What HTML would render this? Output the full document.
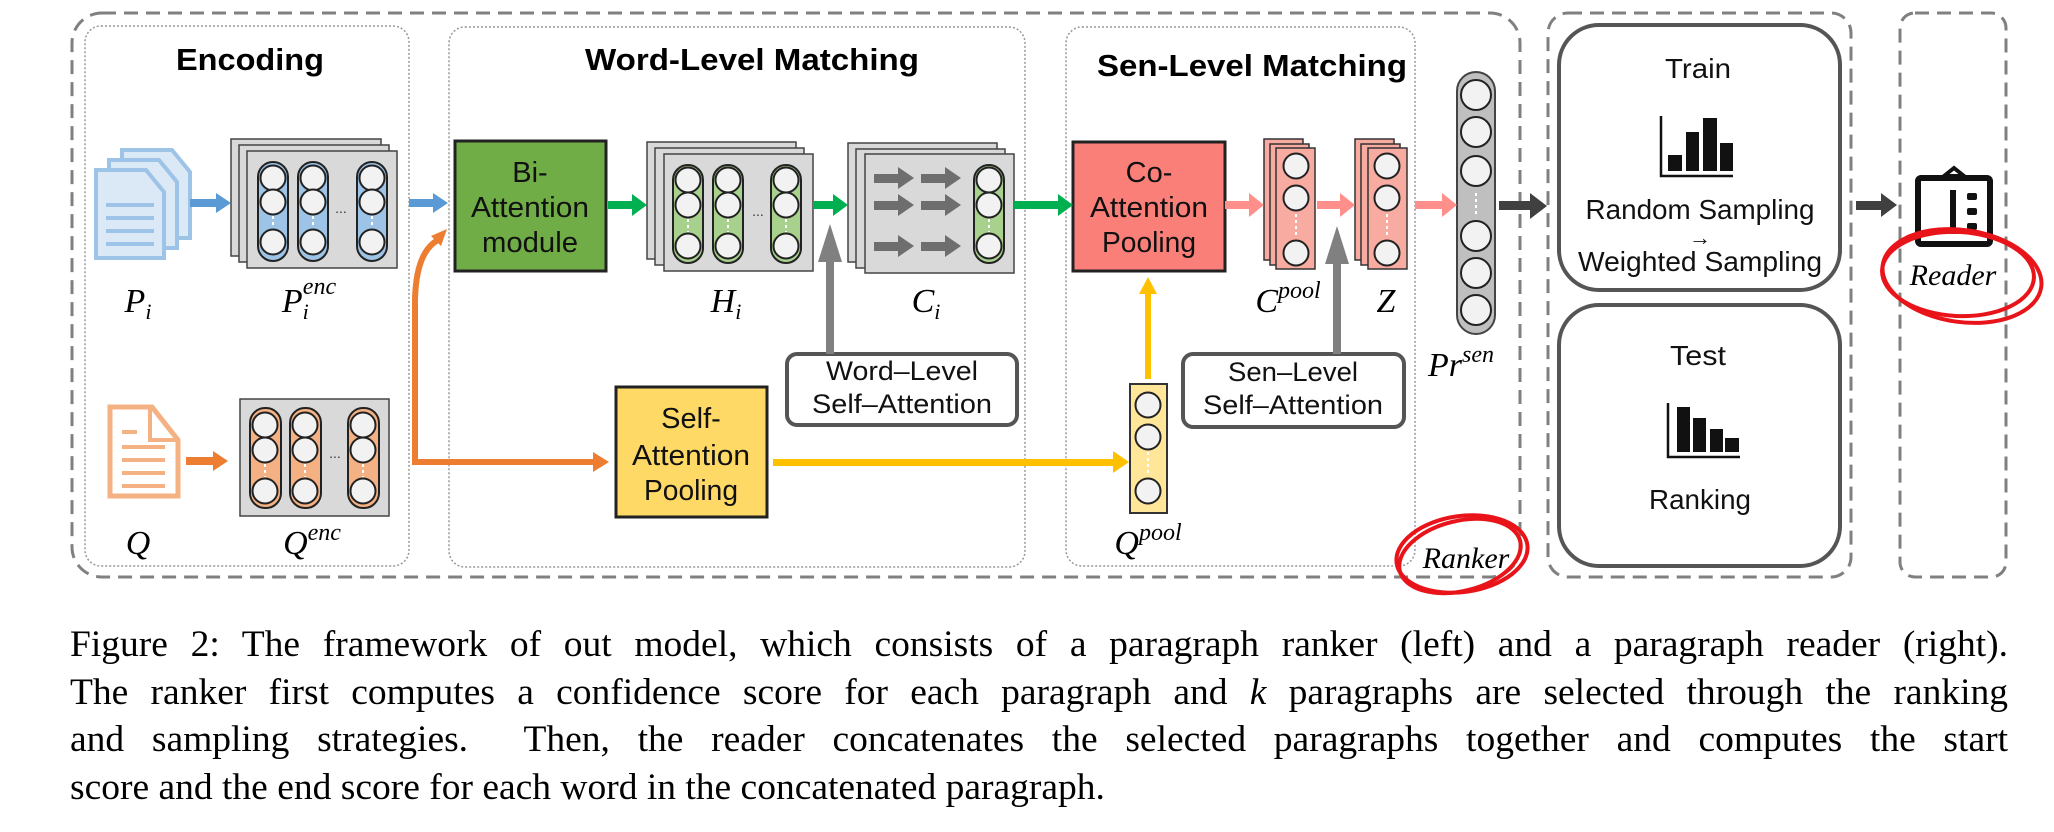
<!DOCTYPE html>
<html><head><meta charset="utf-8"><style>
html,body{margin:0;padding:0;background:#fff;}
body{width:2054px;height:832px;position:relative;overflow:hidden;}
svg{position:absolute;left:0;top:0;}
.cap{position:absolute;left:70px;width:1938px;font-family:"Liberation Serif",serif;font-size:37.5px;line-height:47px;white-space:nowrap;text-align:justify;text-align-last:justify;color:#000;}
</style></head><body>
<svg width="2054" height="832" viewBox="0 0 2054 832" xmlns="http://www.w3.org/2000/svg">
<defs>
<g id="wc"><ellipse cx="0" cy="0" rx="12.5" ry="12.5" fill="#f2f2f2" stroke="#222" stroke-width="2"/></g>
</defs>
<rect x="72" y="13" width="1448" height="564" rx="30" fill="none" stroke="#808080" stroke-width="3" stroke-dasharray="14 8"/>
<rect x="1548" y="13" width="303" height="564" rx="20" fill="none" stroke="#808080" stroke-width="3" stroke-dasharray="14 8"/>
<rect x="1900" y="13" width="106" height="564" rx="15" fill="none" stroke="#808080" stroke-width="3" stroke-dasharray="14 8"/>
<rect x="85" y="26" width="324" height="540" rx="16" fill="none" stroke="#999" stroke-width="1.5" stroke-dasharray="2 2"/>
<rect x="449" y="27" width="576" height="540" rx="16" fill="none" stroke="#999" stroke-width="1.5" stroke-dasharray="2 2"/>
<rect x="1066" y="27" width="349" height="539" rx="16" fill="none" stroke="#999" stroke-width="1.5" stroke-dasharray="2 2"/>

<g font-family="Liberation Sans, sans-serif" font-weight="bold" font-size="31" text-anchor="middle" fill="#000">
<text x="250" y="70" textLength="148" lengthAdjust="spacingAndGlyphs">Encoding</text>
<text x="752" y="70" textLength="334" lengthAdjust="spacingAndGlyphs">Word-Level Matching</text>
<text x="1252" y="76" textLength="310" lengthAdjust="spacingAndGlyphs">Sen-Level Matching</text>
</g>

<g fill="#dbe8f6" stroke="#9dc3e6" stroke-width="4">
<polygon points="122,150 172,150 190,172 190,238 122,238"/>
<polygon points="109,160 159,160 177,182 177,248 109,248"/>
<polygon points="96,170 146,170 164,192 164,258 96,258"/>
</g>
<g stroke="#9dc3e6" stroke-width="4"><line x1="106" y1="205" x2="154" y2="205"/><line x1="106" y1="218" x2="154" y2="218"/><line x1="106" y1="231" x2="154" y2="231"/><line x1="106" y1="244" x2="154" y2="244"/></g>
<polygon points="110,407 152,407 178,440 178,496 110,496" fill="#fff" stroke="#f4b183" stroke-width="5"/>
<polyline points="150,407 150,440 178,440" fill="none" stroke="#f4b183" stroke-width="4"/>
<g stroke="#f4b183" stroke-width="4"><line x1="122" y1="432" x2="137" y2="432"/><line x1="122" y1="447" x2="165" y2="447"/><line x1="122" y1="460" x2="165" y2="460"/><line x1="122" y1="473" x2="165" y2="473"/><line x1="122" y1="486" x2="165" y2="486"/></g>

<g fill="#d9d9d9" stroke="#444" stroke-width="1.5">
<rect x="231" y="139" width="150" height="117"/><rect x="239" y="145" width="150" height="117"/><rect x="247" y="151" width="150" height="117"/>
</g>
<g fill="#9dc3e6" stroke="#222" stroke-width="2">
<rect x="258" y="162" width="30" height="99" rx="15"/><rect x="298" y="162" width="30" height="99" rx="15"/><rect x="357" y="162" width="30" height="99" rx="15"/>
</g>
<g><use href="#wc" x="273" y="178"/><use href="#wc" x="273" y="202"/><use href="#wc" x="273" y="242"/>
<use href="#wc" x="313" y="178"/><use href="#wc" x="313" y="202"/><use href="#wc" x="313" y="242"/>
<use href="#wc" x="372" y="178"/><use href="#wc" x="372" y="202"/><use href="#wc" x="372" y="242"/></g>
<g stroke="#fff" stroke-width="2" stroke-dasharray="3 3"><line x1="273" y1="216" x2="273" y2="228"/><line x1="313" y1="216" x2="313" y2="228"/><line x1="372" y1="216" x2="372" y2="228"/></g>
<text x="341" y="213" font-family="Liberation Sans" font-size="14" text-anchor="middle" fill="#333">...</text>

<rect x="240" y="399" width="149" height="117" fill="#d9d9d9" stroke="#444" stroke-width="1.5"/>
<g fill="#f4b183" stroke="#222" stroke-width="2">
<rect x="250" y="408" width="31" height="100" rx="15"/><rect x="290" y="408" width="31" height="100" rx="15"/><rect x="348" y="408" width="31" height="100" rx="15"/>
</g>
<g><use href="#wc" x="265" y="425"/><use href="#wc" x="265" y="450"/><use href="#wc" x="265" y="491"/>
<use href="#wc" x="305" y="425"/><use href="#wc" x="305" y="450"/><use href="#wc" x="305" y="491"/>
<use href="#wc" x="363" y="425"/><use href="#wc" x="363" y="450"/><use href="#wc" x="363" y="491"/></g>
<g stroke="#fff" stroke-width="2" stroke-dasharray="3 3"><line x1="265" y1="464" x2="265" y2="477"/><line x1="305" y1="464" x2="305" y2="477"/><line x1="363" y1="464" x2="363" y2="477"/></g>
<text x="335" y="458" font-family="Liberation Sans" font-size="14" text-anchor="middle" fill="#333">...</text>

<g fill="#d9d9d9" stroke="#444" stroke-width="1.5">
<rect x="647" y="142" width="149" height="117"/><rect x="655" y="148" width="149" height="117"/><rect x="664" y="154" width="149" height="117"/>
</g>
<g fill="#a9d18e" stroke="#222" stroke-width="2">
<rect x="673" y="165" width="30" height="98" rx="15"/><rect x="713" y="165" width="30" height="98" rx="15"/><rect x="771" y="165" width="30" height="98" rx="15"/>
</g>
<g><use href="#wc" x="688" y="180"/><use href="#wc" x="688" y="205"/><use href="#wc" x="688" y="246"/>
<use href="#wc" x="728" y="180"/><use href="#wc" x="728" y="205"/><use href="#wc" x="728" y="246"/>
<use href="#wc" x="786" y="180"/><use href="#wc" x="786" y="205"/><use href="#wc" x="786" y="246"/></g>
<g stroke="#fff" stroke-width="2" stroke-dasharray="3 3"><line x1="688" y1="219" x2="688" y2="232"/><line x1="728" y1="219" x2="728" y2="232"/><line x1="786" y1="219" x2="786" y2="232"/></g>
<text x="758" y="216" font-family="Liberation Sans" font-size="14" text-anchor="middle" fill="#333">...</text>

<g fill="#d9d9d9" stroke="#444" stroke-width="1.5">
<rect x="848" y="143" width="149" height="119"/><rect x="856" y="149" width="149" height="119"/><rect x="865" y="154" width="149" height="119"/>
</g>
<g fill="#6e6e6e">
<rect x="874" y="174" width="24" height="9"/><polygon points="898,167 914,178 898,189"/>
<rect x="921" y="174" width="24" height="9"/><polygon points="945,167 961,178 945,189"/>
<rect x="874" y="201" width="24" height="9"/><polygon points="898,194 914,205 898,216"/>
<rect x="921" y="201" width="24" height="9"/><polygon points="945,194 961,205 945,216"/>
<rect x="874" y="242" width="24" height="9"/><polygon points="898,235 914,246 898,257"/>
<rect x="921" y="242" width="24" height="9"/><polygon points="945,235 961,246 945,257"/>
</g>
<rect x="974" y="165" width="30" height="98" rx="15" fill="#a9d18e" stroke="#222" stroke-width="2"/>
<use href="#wc" x="989" y="180"/><use href="#wc" x="989" y="205"/><use href="#wc" x="989" y="246"/>
<line x1="989" y1="219" x2="989" y2="232" stroke="#fff" stroke-width="2" stroke-dasharray="3 3"/>

<rect x="455" y="141" width="151" height="130" fill="#70ad47" stroke="#222" stroke-width="3"/>
<rect x="616" y="387" width="151" height="130" fill="#ffd966" stroke="#222" stroke-width="3"/>
<rect x="1073" y="142" width="152" height="129" fill="#fb7f79" stroke="#222" stroke-width="3"/>
<g font-family="Liberation Sans, sans-serif" font-size="29" text-anchor="middle" fill="#111">
<text x="530" y="182">Bi-</text><text x="530" y="217" textLength="118" lengthAdjust="spacingAndGlyphs">Attention</text><text x="530" y="252" textLength="96" lengthAdjust="spacingAndGlyphs">module</text>
<text x="691" y="428">Self-</text><text x="691" y="465" textLength="118" lengthAdjust="spacingAndGlyphs">Attention</text><text x="691" y="500" textLength="94" lengthAdjust="spacingAndGlyphs">Pooling</text>
<text x="1149" y="182">Co-</text><text x="1149" y="217" textLength="118" lengthAdjust="spacingAndGlyphs">Attention</text><text x="1149" y="252" textLength="94" lengthAdjust="spacingAndGlyphs">Pooling</text>
</g>
<rect x="787" y="354" width="230" height="71" rx="10" fill="#fff" stroke="#555" stroke-width="4"/>
<rect x="1183" y="354" width="221" height="73" rx="10" fill="#fff" stroke="#555" stroke-width="4"/>
<g font-family="Liberation Sans, sans-serif" font-size="27" text-anchor="middle" fill="#111">
<text x="902" y="380" textLength="152" lengthAdjust="spacingAndGlyphs">Word–Level</text><text x="902" y="413" textLength="180" lengthAdjust="spacingAndGlyphs">Self–Attention</text>
<text x="1293" y="381" textLength="130" lengthAdjust="spacingAndGlyphs">Sen–Level</text><text x="1293" y="414" textLength="180" lengthAdjust="spacingAndGlyphs">Self–Attention</text>
</g>

<g fill="#f8aba0" stroke="#333" stroke-width="1.5">
<rect x="1264" y="139" width="39" height="121"/><rect x="1270" y="144" width="39" height="121"/><rect x="1276" y="148" width="39" height="121"/>
<rect x="1355" y="139" width="39" height="121"/><rect x="1361" y="144" width="39" height="121"/><rect x="1368" y="148" width="39" height="121"/>
</g>
<use href="#wc" x="1296" y="166"/><use href="#wc" x="1296" y="198"/><use href="#wc" x="1296" y="253"/>
<use href="#wc" x="1387" y="166"/><use href="#wc" x="1387" y="198"/><use href="#wc" x="1387" y="253"/>
<g stroke="#fff" stroke-width="2" stroke-dasharray="3 3"><line x1="1296" y1="214" x2="1296" y2="236"/><line x1="1387" y1="214" x2="1387" y2="236"/></g>

<rect x="1457" y="72" width="38" height="262" rx="19" fill="#bfbfbf" stroke="#444" stroke-width="2"/>
<g fill="#f2f2f2" stroke="#222" stroke-width="2">
<ellipse cx="1476" cy="95" rx="15" ry="15"/><ellipse cx="1476" cy="132" rx="15" ry="15"/><ellipse cx="1476" cy="171" rx="15" ry="15"/>
<ellipse cx="1476" cy="236" rx="15" ry="15"/><ellipse cx="1476" cy="273" rx="15" ry="15"/><ellipse cx="1476" cy="310" rx="15" ry="15"/>
</g>
<line x1="1476" y1="193" x2="1476" y2="216" stroke="#fff" stroke-width="2" stroke-dasharray="3 3"/>

<rect x="1130" y="384" width="37" height="129" fill="#ffe699" stroke="#333" stroke-width="2"/>
<use href="#wc" x="1148" y="405"/><use href="#wc" x="1148" y="437"/><use href="#wc" x="1148" y="491"/>
<line x1="1148" y1="452" x2="1148" y2="475" stroke="#fff" stroke-width="2" stroke-dasharray="3 3"/>

<g fill="#5b9bd5">
<rect x="190" y="199" width="26" height="8"/><polygon points="216,193 231,203 216,213"/>
<rect x="409" y="199" width="24" height="8"/><polygon points="433,193 448,203 433,213"/>
</g>
<g fill="#00b050">
<rect x="608" y="201" width="24" height="8"/><polygon points="632,194 647,205 632,216"/>
<rect x="813" y="201" width="20" height="8"/><polygon points="833,194 848,205 833,216"/>
<rect x="1014" y="201" width="44" height="8"/><polygon points="1058,194 1073,205 1058,216"/>
</g>
<g fill="#ff8f8a">
<rect x="1225" y="201" width="24" height="8"/><polygon points="1249,193 1264,205 1249,217"/>
<rect x="1317" y="201" width="23" height="8"/><polygon points="1340,193 1355,205 1340,217"/>
<rect x="1415" y="201" width="27" height="8"/><polygon points="1442,193 1457,205 1442,217"/>
</g>
<g fill="#404040">
<rect x="1499" y="201" width="31" height="9"/><polygon points="1530,193 1547,206 1530,219"/>
<rect x="1856" y="201" width="25" height="9"/><polygon points="1881,193 1897,205 1881,217"/>
</g>
<g fill="#ed7d31">
<rect x="186" y="457" width="27" height="8"/><polygon points="213,451 228,461 213,471"/>
<polygon points="593,452 609,462 593,472"/>
</g>
<path d="M593 462 H415 V300 Q416 252 438 240" fill="none" stroke="#ed7d31" stroke-width="6"/>
<polygon points="431,236 447,229 441,246" fill="#ed7d31"/>
<rect x="773" y="459" width="340" height="7" fill="#ffc000"/>
<polygon points="1113,451 1129,462 1113,473" fill="#ffc000"/>
<rect x="1145" y="292" width="6" height="87" fill="#ffc000"/>
<polygon points="1139,294 1148,277 1157,294" fill="#ffc000"/>
<g fill="#808080">
<rect x="826" y="258" width="8" height="96"/><polygon points="818,262 830,224 842,262"/>
<rect x="1333" y="260" width="8" height="94"/><polygon points="1325,264 1337,226 1349,264"/>
</g>

<g font-family="Liberation Serif, serif" font-style="italic" font-size="34" fill="#000" text-anchor="middle">
<text x="138" y="312">P<tspan font-size="22" dy="7">i</tspan></text>
<text x="309" y="312">P<tspan font-size="22" dy="7">i</tspan><tspan font-size="24" dx="-6" dy="-25">enc</tspan></text>
<text x="726" y="312">H<tspan font-size="22" dy="7">i</tspan></text>
<text x="926" y="312">C<tspan font-size="22" dy="7">i</tspan></text>
<text x="1288" y="312">C<tspan font-size="24" dy="-14">pool</tspan></text>
<text x="1386" y="312">Z</text>
<text x="1461" y="376">Pr<tspan font-size="24" dy="-14">sen</tspan></text>
<text x="138" y="554">Q</text>
<text x="312" y="554">Q<tspan font-size="24" dy="-14">enc</tspan></text>
<text x="1148" y="554">Q<tspan font-size="24" dy="-14">pool</tspan></text>
<text x="1466" y="568" font-size="30">Ranker</text>
<text x="1953" y="285" font-size="30">Reader</text>
</g>

<rect x="1559" y="25" width="281" height="265" rx="40" fill="#fff" stroke="#555" stroke-width="4"/>
<rect x="1559" y="305" width="281" height="261" rx="40" fill="#fff" stroke="#555" stroke-width="4"/>
<g font-family="Liberation Sans, sans-serif" font-size="28" text-anchor="middle" fill="#111">
<text x="1698" y="78" textLength="66" lengthAdjust="spacingAndGlyphs">Train</text>
<text x="1700" y="219" textLength="229" lengthAdjust="spacingAndGlyphs">Random Sampling</text>
<text x="1700" y="245" font-size="22">→</text>
<text x="1700" y="271" textLength="244" lengthAdjust="spacingAndGlyphs">Weighted Sampling</text>
<text x="1698" y="365" textLength="56" lengthAdjust="spacingAndGlyphs">Test</text>
<text x="1700" y="509" textLength="102" lengthAdjust="spacingAndGlyphs">Ranking</text>
</g>
<polyline points="1661,116 1661,176 1733,176" fill="none" stroke="#111" stroke-width="2.5"/>
<g fill="#111"><rect x="1668" y="155" width="14" height="16"/><rect x="1686" y="132" width="13" height="39"/><rect x="1703" y="118" width="14" height="53"/><rect x="1720" y="143" width="13" height="28"/></g>
<polyline points="1668,403 1668,457 1740,457" fill="none" stroke="#111" stroke-width="2.5"/>
<g fill="#111"><rect x="1677" y="407" width="13" height="45"/><rect x="1693" y="418" width="13" height="34"/><rect x="1710" y="429" width="13" height="23"/><rect x="1725" y="438" width="14" height="14"/></g>

<rect x="1918" y="178" width="72" height="66" rx="3" fill="none" stroke="#111" stroke-width="6"/>
<polygon points="1944,176 1954,168 1964,176" fill="#fff" stroke="#111" stroke-width="4"/>
<rect x="1950" y="190" width="6" height="44" fill="#111"/>
<g fill="#111"><rect x="1967" y="193" width="10" height="7" rx="2"/><rect x="1967" y="208" width="10" height="7" rx="2"/><rect x="1967" y="223" width="10" height="7" rx="2"/></g>

<g fill="none" stroke="#e8141a" stroke-width="4">
<ellipse cx="1462" cy="554" rx="66" ry="38" transform="rotate(-8 1462 554)"/>
<ellipse cx="1460" cy="556" rx="62" ry="35" transform="rotate(-14 1460 556)"/>
<ellipse cx="1962" cy="276" rx="80" ry="46" transform="rotate(8 1962 276)"/>
<ellipse cx="1958" cy="274" rx="76" ry="42" transform="rotate(3 1958 274)"/>
</g>
</svg>

<div class="cap" style="top:621px">Figure 2: The framework of out model, which consists of a paragraph ranker (left) and a paragraph reader (right).</div>
<div class="cap" style="top:669px">The ranker first computes a confidence score for each paragraph and <i>k</i> paragraphs are selected through the ranking</div>
<div class="cap" style="top:716px">and sampling strategies. &nbsp;Then, the reader concatenates the selected paragraphs together and computes the start</div>
<div class="cap" style="top:764px;text-align:left;text-align-last:left;width:auto">score and the end score for each word in the concatenated paragraph.</div>
</body></html>
